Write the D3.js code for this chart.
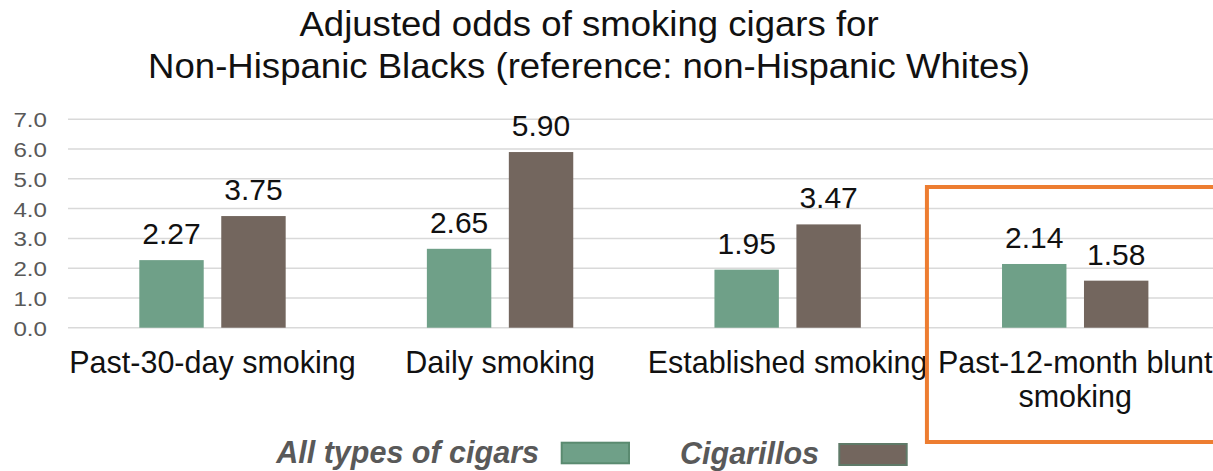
<!DOCTYPE html>
<html>
<head>
<meta charset="utf-8">
<script src="https://cdn.jsdelivr.net/npm/d3@7"></script>
<style>
  html, body { margin: 0; padding: 0; background: #ffffff; }
  svg { display: block; font-family: "Liberation Sans", Arial, sans-serif; }
</style>
</head>
<body>
<svg id="chart" width="1213" height="471"></svg>
<script>
const categories = ["Past-30-day smoking", "Daily smoking", "Established smoking", "Past-12-month blunt smoking"];
const categoryLines = [["Past-30-day smoking"], ["Daily smoking"], ["Established smoking"], ["Past-12-month blunt", "smoking"]];
const seriesNames = ["All types of cigars", "Cigarillos"];
const allCigars = [2.27, 2.65, 1.95, 2.14];
const cigarillos = [3.75, 5.90, 3.47, 1.58];
const yTicks = [0, 1, 2, 3, 4, 5, 6, 7];
const titleLines = ["Adjusted odds of smoking cigars for", "Non-Hispanic Blacks (reference: non-Hispanic Whites)"];
const highlighted = "Past-12-month blunt smoking";

const colors = { "All types of cigars": "#6fa088", "Cigarillos": "#73665e" };
const swatchStroke = { "All types of cigars": "#5a8a70", "Cigarillos": "#5f7a68" };

const svg = d3.select("#chart");
const W = 1213, H = 471;
const plot = { left: 68.7, right: 1219, top: 119.3, bottom: 327.7 };

const x0 = d3.scaleBand().domain(categories).range([plot.left, plot.right]).paddingInner(0).paddingOuter(0);
const bw = x0.bandwidth();
const x1 = d3.scaleBand().domain(seriesNames).range([bw * 0.2455, bw * 0.7545]).paddingInner(0.214).paddingOuter(0);
const y = d3.scaleLinear().domain([0, 7]).range([plot.bottom, plot.top]);

// title
svg.append("g").selectAll("text").data(titleLines).join("text")
  .attr("transform", (d, i) => `translate(589,${36 + i * 42}) scale(1.045,1)`)
  .attr("text-anchor", "middle")
  .attr("font-size", 35)
  .attr("fill", "#111")
  .text(d => d);

// gridlines
svg.append("g").selectAll("line").data(yTicks).join("line")
  .attr("x1", plot.left - 0.7).attr("x2", W)
  .attr("y1", d => y(d)).attr("y2", d => y(d))
  .attr("stroke", "#d9d9d9").attr("stroke-width", 1.5);

// y axis labels via d3 axis
const yAxis = d3.axisLeft(y).tickValues(yTicks).tickFormat(d3.format(".1f")).tickSize(0).tickPadding(0);
const yg = svg.append("g").attr("transform", "translate(47,0)").call(yAxis);
yg.select(".domain").remove();
yg.selectAll(".tick text")
  .attr("font-family", "\"Liberation Sans\", Arial, sans-serif")
  .attr("font-size", 21)
  .attr("fill", "#595959")
  .attr("dy", null)
  .attr("x", 0)
  .attr("y", 7.5)
  .attr("transform", "scale(1.15,1)");

// data rows
const rows = categories.map((c, i) => ({ cat: c, values: [
  { key: seriesNames[0], value: allCigars[i] },
  { key: seriesNames[1], value: cigarillos[i] }
]}));

const groups = svg.append("g").selectAll("g").data(rows).join("g")
  .attr("transform", d => `translate(${x0(d.cat)},0)`);

groups.selectAll("rect").data(d => d.values).join("rect")
  .attr("x", d => x1(d.key))
  .attr("width", x1.bandwidth())
  .attr("y", d => y(d.value))
  .attr("height", d => y(0) - y(d.value))
  .attr("fill", d => colors[d.key]);

groups.selectAll("text.val").data(d => d.values).join("text")
  .attr("class", "val")
  .attr("x", d => x1(d.key) + x1.bandwidth() / 2)
  .attr("y", d => y(d.value) - 16)
  .attr("text-anchor", "middle")
  .attr("font-size", 30)
  .attr("fill", "#111")
  .text(d => d.value.toFixed(2));

// category labels
const catG = svg.append("g").selectAll("g").data(categories).join("g");
catG.each(function(c, i) {
  d3.select(this).selectAll("text").data(categoryLines[i]).join("text")
    .attr("x", x0(c) + bw / 2)
    .attr("y", (d, j) => 373 + j * 34)
    .attr("text-anchor", "middle")
    .attr("font-size", 30.5)
    .attr("fill", "#111")
    .text(d => d);
});

// highlight box
svg.append("rect")
  .attr("x", x0(highlighted) - 4.5)
  .attr("y", 187)
  .attr("width", W + 10 - (x0(highlighted) - 4.5))
  .attr("height", 442 - 187)
  .attr("fill", "none")
  .attr("stroke", "#ed7d31")
  .attr("stroke-width", 4);

// legend
const legendItems = [
  { key: seriesNames[0], textRight: 539, sx: 561.7, sy: 442.7, sw: 67.3, sh: 20.6 },
  { key: seriesNames[1], textRight: 819, sx: 839.3, sy: 444, sw: 67.4, sh: 21 }
];
const lg = svg.append("g").selectAll("g").data(legendItems).join("g");
lg.append("text")
  .attr("x", d => d.textRight)
  .attr("y", d => d.sy + 20)
  .attr("text-anchor", "end")
  .attr("font-size", 30.5)
  .attr("font-weight", "bold")
  .attr("font-style", "italic")
  .attr("fill", "#595959")
  .text(d => d.key);
lg.append("rect")
  .attr("x", d => d.sx).attr("y", d => d.sy)
  .attr("width", d => d.sw).attr("height", d => d.sh)
  .attr("fill", d => colors[d.key])
  .attr("stroke", d => swatchStroke[d.key])
  .attr("stroke-width", 2);
</script>
</body>
</html>
